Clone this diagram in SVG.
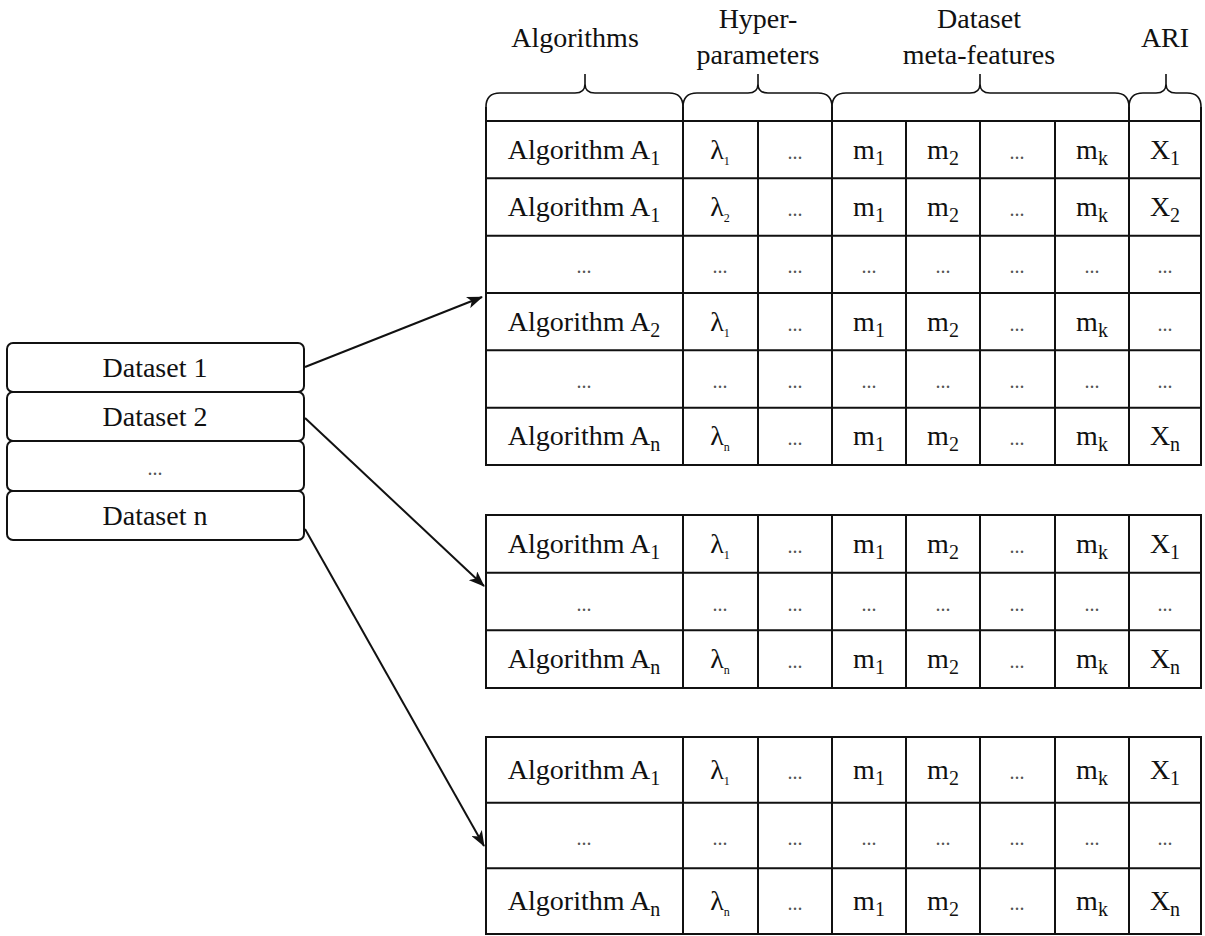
<svg xmlns="http://www.w3.org/2000/svg" width="1205" height="936" viewBox="0 0 1205 936">
<style>
text{font-family:"Liberation Serif","Times New Roman",serif;font-size:28px;fill:#111;text-anchor:middle}
.d{font-size:20px;fill:#555}
.s{font-size:20px}
.ss{font-size:12px}
.ln{stroke:#111;stroke-width:2;fill:none}
.br{stroke:#111;stroke-width:1.6;fill:none}
.box{fill:#fff;stroke:#111;stroke-width:2}
.ar{stroke:#111;stroke-width:2;fill:none}
</style>
<defs>
<marker id="ah" markerUnits="userSpaceOnUse" markerWidth="16" markerHeight="12" refX="15" refY="6" orient="auto">
<path d="M0,0 L16,6 L0,12 L4,6 Z" fill="#111"/>
</marker>
</defs>

<g id="header">
<text x="575" y="47">Algorithms</text>
<text x="758" y="28">Hyper-</text>
<text x="758" y="64">parameters</text>
<text x="979" y="28">Dataset</text>
<text x="979" y="64">meta-features</text>
<text x="1165" y="47">ARI</text>
<path class="br" d="M486 107 Q486 93 500 93 L575 93 Q585 93 585 84 L585 74 M585 84 Q585 93 595 93 L669 93 Q683 93 683 107"/>
<path class="br" d="M683 107 Q683 93 697 93 L748 93 Q758 93 758 84 L758 74 M758 84 Q758 93 768 93 L818 93 Q832 93 832 107"/>
<path class="br" d="M832 107 Q832 93 846 93 L970 93 Q980 93 980 84 L980 74 M980 84 Q980 93 990 93 L1115 93 Q1129 93 1129 107"/>
<path class="br" d="M1129 107 Q1129 93 1143 93 L1156 93 Q1166 93 1166 84 L1166 74 M1166 84 Q1166 93 1176 93 L1187 93 Q1201 93 1201 107"/>
<path class="ln" d="M486 107 V121 M683 107 V121 M832 107 V121 M1129 107 V121 M1201 107 V121"/>
</g>

<g id="datasets">
<g id="ds1"><rect class="box" x="7" y="343" width="297" height="49" rx="6"/><text x="155" y="377">Dataset 1</text></g>
<g id="ds2"><rect class="box" x="7" y="392" width="297" height="49" rx="6"/><text x="155" y="426">Dataset 2</text></g>
<g id="ds3"><rect class="box" x="7" y="441" width="297" height="50" rx="6"/><text class="d" x="155" y="475">...</text></g>
<g id="dsn"><rect class="box" x="7" y="491" width="297" height="49" rx="6"/><text x="155" y="525">Dataset n</text></g>
</g>

<g id="table1">
<rect class="ln" x="486" y="121" width="715" height="344"/>
<path class="ln" d="M486 178.3 H1201 M486 235.7 H1201 M486 293 H1201 M486 350.3 H1201 M486 407.7 H1201 M683 121 V465 M758 121 V465 M832 121 V465 M906 121 V465 M980 121 V465 M1055 121 V465 M1129 121 V465"/>
<g transform="translate(0,159)">
<text x="584">Algorithm A<tspan class="s" dy="6">1</tspan></text>
<text x="720">λ<tspan class="ss" dy="6">1</tspan></text>
<text class="d" x="795">...</text>
<text x="869">m<tspan class="s" dy="6">1</tspan></text>
<text x="943">m<tspan class="s" dy="6">2</tspan></text>
<text class="d" x="1017">...</text>
<text x="1092">m<tspan class="s" dy="6">k</tspan></text>
<text x="1165">X<tspan class="s" dy="6">1</tspan></text>
</g>
<g transform="translate(0,216)">
<text x="584">Algorithm A<tspan class="s" dy="6">1</tspan></text>
<text x="720">λ<tspan class="ss" dy="6">2</tspan></text>
<text class="d" x="795">...</text>
<text x="869">m<tspan class="s" dy="6">1</tspan></text>
<text x="943">m<tspan class="s" dy="6">2</tspan></text>
<text class="d" x="1017">...</text>
<text x="1092">m<tspan class="s" dy="6">k</tspan></text>
<text x="1165">X<tspan class="s" dy="6">2</tspan></text>
</g>
<g transform="translate(0,273)">
<text class="d" x="584">...</text><text class="d" x="720">...</text><text class="d" x="795">...</text><text class="d" x="869">...</text><text class="d" x="943">...</text><text class="d" x="1017">...</text><text class="d" x="1092">...</text><text class="d" x="1165">...</text>
</g>
<g transform="translate(0,331)">
<text x="584">Algorithm A<tspan class="s" dy="6">2</tspan></text>
<text x="720">λ<tspan class="ss" dy="6">1</tspan></text>
<text class="d" x="795">...</text>
<text x="869">m<tspan class="s" dy="6">1</tspan></text>
<text x="943">m<tspan class="s" dy="6">2</tspan></text>
<text class="d" x="1017">...</text>
<text x="1092">m<tspan class="s" dy="6">k</tspan></text>
<text class="d" x="1165">...</text>
</g>
<g transform="translate(0,388)">
<text class="d" x="584">...</text><text class="d" x="720">...</text><text class="d" x="795">...</text><text class="d" x="869">...</text><text class="d" x="943">...</text><text class="d" x="1017">...</text><text class="d" x="1092">...</text><text class="d" x="1165">...</text>
</g>
<g transform="translate(0,445)">
<text x="584">Algorithm A<tspan class="s" dy="6">n</tspan></text>
<text x="720">λ<tspan class="ss" dy="6">n</tspan></text>
<text class="d" x="795">...</text>
<text x="869">m<tspan class="s" dy="6">1</tspan></text>
<text x="943">m<tspan class="s" dy="6">2</tspan></text>
<text class="d" x="1017">...</text>
<text x="1092">m<tspan class="s" dy="6">k</tspan></text>
<text x="1165">X<tspan class="s" dy="6">n</tspan></text>
</g>
</g>

<g id="table2">
<rect class="ln" x="486" y="515" width="715" height="173"/>
<path class="ln" d="M486 572.7 H1201 M486 630.3 H1201 M683 515 V688 M758 515 V688 M832 515 V688 M906 515 V688 M980 515 V688 M1055 515 V688 M1129 515 V688"/>
<g transform="translate(0,553)">
<text x="584">Algorithm A<tspan class="s" dy="6">1</tspan></text>
<text x="720">λ<tspan class="ss" dy="6">1</tspan></text>
<text class="d" x="795">...</text>
<text x="869">m<tspan class="s" dy="6">1</tspan></text>
<text x="943">m<tspan class="s" dy="6">2</tspan></text>
<text class="d" x="1017">...</text>
<text x="1092">m<tspan class="s" dy="6">k</tspan></text>
<text x="1165">X<tspan class="s" dy="6">1</tspan></text>
</g>
<g transform="translate(0,611)">
<text class="d" x="584">...</text><text class="d" x="720">...</text><text class="d" x="795">...</text><text class="d" x="869">...</text><text class="d" x="943">...</text><text class="d" x="1017">...</text><text class="d" x="1092">...</text><text class="d" x="1165">...</text>
</g>
<g transform="translate(0,668)">
<text x="584">Algorithm A<tspan class="s" dy="6">n</tspan></text>
<text x="720">λ<tspan class="ss" dy="6">n</tspan></text>
<text class="d" x="795">...</text>
<text x="869">m<tspan class="s" dy="6">1</tspan></text>
<text x="943">m<tspan class="s" dy="6">2</tspan></text>
<text class="d" x="1017">...</text>
<text x="1092">m<tspan class="s" dy="6">k</tspan></text>
<text x="1165">X<tspan class="s" dy="6">n</tspan></text>
</g>
</g>

<g id="table3">
<rect class="ln" x="486" y="737" width="715" height="197"/>
<path class="ln" d="M486 802.7 H1201 M486 868.3 H1201 M683 737 V934 M758 737 V934 M832 737 V934 M906 737 V934 M980 737 V934 M1055 737 V934 M1129 737 V934"/>
<g transform="translate(0,779)">
<text x="584">Algorithm A<tspan class="s" dy="6">1</tspan></text>
<text x="720">λ<tspan class="ss" dy="6">1</tspan></text>
<text class="d" x="795">...</text>
<text x="869">m<tspan class="s" dy="6">1</tspan></text>
<text x="943">m<tspan class="s" dy="6">2</tspan></text>
<text class="d" x="1017">...</text>
<text x="1092">m<tspan class="s" dy="6">k</tspan></text>
<text x="1165">X<tspan class="s" dy="6">1</tspan></text>
</g>
<g transform="translate(0,845)">
<text class="d" x="584">...</text><text class="d" x="720">...</text><text class="d" x="795">...</text><text class="d" x="869">...</text><text class="d" x="943">...</text><text class="d" x="1017">...</text><text class="d" x="1092">...</text><text class="d" x="1165">...</text>
</g>
<g transform="translate(0,910)">
<text x="584">Algorithm A<tspan class="s" dy="6">n</tspan></text>
<text x="720">λ<tspan class="ss" dy="6">n</tspan></text>
<text class="d" x="795">...</text>
<text x="869">m<tspan class="s" dy="6">1</tspan></text>
<text x="943">m<tspan class="s" dy="6">2</tspan></text>
<text class="d" x="1017">...</text>
<text x="1092">m<tspan class="s" dy="6">k</tspan></text>
<text x="1165">X<tspan class="s" dy="6">n</tspan></text>
</g>
</g>

<g id="connectors">
<line class="ar" x1="305" y1="367" x2="482" y2="297" marker-end="url(#ah)"/>
<line class="ar" x1="305" y1="418" x2="484" y2="586" marker-end="url(#ah)"/>
<line class="ar" x1="305" y1="529" x2="484" y2="846" marker-end="url(#ah)"/>
</g>
</svg>
